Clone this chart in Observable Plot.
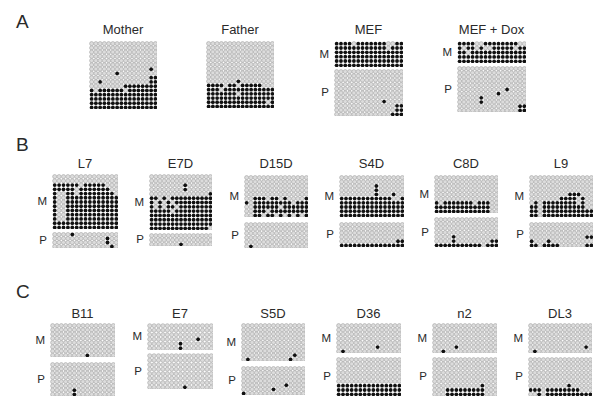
<!DOCTYPE html>
<html><head><meta charset="utf-8">
<script src="https://cdn.jsdelivr.net/npm/d3@7"></script>
<script src="https://cdn.jsdelivr.net/npm/@observablehq/plot@0.6"></script>
<style>
body{margin:0;background:#fff;}
#fig{position:relative;width:600px;height:405px;font-family:"Liberation Sans",Arial,Helvetica,sans-serif;color:#2a2a2a;overflow:hidden}
.t{position:absolute;white-space:nowrap;line-height:1}
.blk{position:absolute}
.blk svg{display:block}
</style></head><body><div id="fig"></div>
<script>
// Section letters and sample titles
const sections = ["A", "B", "C"];
const titles = ["Mother","Father","MEF","MEF + Dox","L7","E7D","D15D","S4D","C8D","L9","B11","E7","S5D","D36","n2","DL3"];
const alleleLabels = ["M","P"];

// Methylation grids: one string per clone (row), '#' = methylated CpG, '.' = unmethylated
const mother = [
"................","................","................","................",
"................","................","..............#.","......#.........",
"..............##","..#...........##","........########","#.######.#######",
"################","################","################","################"];
const father = [
"................","................","................","................",
"................","................","................","................",
"................",".......#........","####.##.#####...","###.############",
"#######.########","################","##############.#","################"];
const mefM = [
"####.#######..##","############.###","################","################",
"################","################"];
const mefP = [
"................","................","................","................",
"................","................","................","...........#....",
"..............##","..............##",".............###"];
const doxM = [
"####..########..","#.##.#..#####.##","##.#############","################",
"################"];
const doxP = [
"................","................","................","................",
"................","...........#....",".........#......",".....#..........",
".....#..........","..............##","..............##"];
const l7M = [
"...............","...............","######.#####...","#####.#######..",
"#..##.########.","#..############","#..############","#..############",
"#..############","#..############","#..############","###############",
"###############"];
const l7P = ["....#..........","............#..","............#..",".............#."];
const e7dM = [
"...............","...............","........#......","........#......",
"..............#","##.#.##########","#.#.#.#########","#.#.##.########",
"#####.#########","###############","###############","###############",
"##############."];
const e7dP = ["...............","...............",".......#......."];
const d15dM = [
"...............","...............","...............","...............",
"...............","..###.##.#....#","#.#########.###","..######.######",
"..###.#########","..##.##.#.#.#.#"];
const d15dP = ["...............","...............","...............","...............","...............",".#............."];
const s4dM = [
"...............","...............","........#......","........#......",
"........#...#..","############..#","###############","###############",
"###############","###############"];
const s4dP = ["...............","...............","...............","...............",".............##","###############"];
const c8dM = [
"...............","...............","...............","...............",
"...............","...............","#.#######.###..","#############..",
"#############.."];
const c8dP = ["...............","...............","...............","...............","....#..........","....#........##","###########.###"];
const l9M = [
"...............","...............","...............","...............",
".........###...",".......####.#..",".#.########.#..","##.##########..",
"##.############","##.############"];
const l9P = ["...............","...............","...............",".............##","#...#..........","##.####......##"];
const b11M = ["...............","...............","...............","...............","...............","...............","...............","........#......"];
const b11P = ["...............","...............","...............","...............","...............","...............",".....#.........",".....#........."];
const e7M = ["...............","...............","...............","...........#...",".......#.......",".......#......."];
const e7P = ["...............","...............","...............","...............","...............","...............","...............","........#......"];
const s5dM = ["...............","...............","...............","...............","...............","...............","...............","............#..",".#.........#..."];
const s5dP = ["...............","...............","...............","...............","..........#....",".......#.......","#.............."];
const d36M = ["...............","...............","...............","...............","...............",".........#.....",".#............."];
const d36P = ["...............","...............","...............","...............","...............","...............","###############","###############","###############"];
const n2M = ["...............","...............","...............","...............","...............",".....#.........","..#............"];
const n2P = ["...............","...............","...............","...............","...............","...............","...........#...","...#########...","...#########..."];
const dl3M = ["...............","...............","...............","...............","...............",".............#.",".#............."];
const dl3P = ["...............","...............","...............","...............","...............","...............",".........#.....","###.########...","..#.###########"];

// Layout (page geometry only)
const sectionPos = [{x:16,b:28},{x:16,b:151},{x:16,b:298}];
const panels = [
 {x:89, w:68, tb:34, blocks:[{g:mother,y:41,h:68}]},
 {x:206,w:68, tb:34, blocks:[{g:father,y:41,h:67}]},
 {x:334,w:69, tb:34, blocks:[{g:mefM,y:41,h:26,l:0},{g:mefP,y:69,h:47,l:1}]},
 {x:457,w:69, tb:34, blocks:[{g:doxM,y:41,h:22,l:0},{g:doxP,y:66,h:46,l:1}]},
 {x:52, w:66, tb:168, blocks:[{g:l7M,y:174,h:55,l:0},{g:l7P,y:232,h:16,l:1}]},
 {x:149,w:63, tb:168, blocks:[{g:e7dM,y:174,h:56,l:0},{g:e7dP,y:233,h:13,l:1}]},
 {x:244,w:64, tb:168, blocks:[{g:d15dM,y:175,h:42,l:0},{g:d15dP,y:222,h:26,l:1}]},
 {x:339,w:65, tb:168, blocks:[{g:s4dM,y:175,h:42,l:0},{g:s4dP,y:222,h:25,l:1}]},
 {x:434,w:64, tb:168, blocks:[{g:c8dM,y:175,h:38,l:0},{g:c8dP,y:217,h:30,l:1}]},
 {x:529,w:64, tb:168, blocks:[{g:l9M,y:175,h:42,l:0},{g:l9P,y:222,h:25,l:1}]},
 {x:50, w:65, tb:318, blocks:[{g:b11M,y:323,h:34,l:0},{g:b11P,y:362,h:34,l:1}]},
 {x:147,w:66, tb:318, blocks:[{g:e7M,y:323,h:27,l:0},{g:e7P,y:353,h:36,l:1}]},
 {x:241,w:64, tb:318, blocks:[{g:s5dM,y:323,h:38,l:0},{g:s5dP,y:366,h:29,l:1}]},
 {x:336,w:65, tb:318, blocks:[{g:d36M,y:323,h:30,l:0},{g:d36P,y:357,h:39,l:1}]},
 {x:432,w:65, tb:318, blocks:[{g:n2M,y:323,h:30,l:0},{g:n2P,y:357,h:39,l:1}]},
 {x:528,w:64, tb:318, blocks:[{g:dl3M,y:323,h:30,l:0},{g:dl3P,y:357,h:39,l:1}]}
];

const fig = document.getElementById("fig");
function addText(txt, size, left, baseline, align, width) {
  const d = document.createElement("div");
  d.className = "t";
  d.textContent = txt;
  d.style.fontSize = size + "px";
  d.style.top = (baseline - 0.847 * size) + "px";
  if (align === "center") { d.style.left = (left - width/2) + "px"; d.style.width = width + "px"; d.style.textAlign = "center"; }
  else if (align === "right") { d.style.left = (left - width) + "px"; d.style.width = width + "px"; d.style.textAlign = "right"; }
  else d.style.left = left + "px";
  fig.appendChild(d);
}
function block(grid, w, h) {
  const rows = grid.length, cols = grid[0].length;
  const cells = [];
  grid.forEach((s, r) => [...s].forEach((c, k) => cells.push({col: k, row: r, m: c === "#"})));
  return Plot.plot({
    width: w, height: h, margin: 0,
    style: {background: "transparent"},
    x: {domain: [-0.5, cols - 0.5], axis: null},
    y: {domain: [-0.5, rows - 0.5], axis: null, reverse: true},
    marks: [
      Plot.dot(cells.filter(d => !d.m), {x: "col", y: "row", r: 2.05, fill: "#dcdcdc", stroke: "#a4a4a4", strokeWidth: 0.6}),
      Plot.dot(cells.filter(d => d.m), {x: "col", y: "row", r: 1.9, fill: "#111", stroke: "none"})
    ]
  });
}

sections.forEach((s, i) => addText(s, 19, sectionPos[i].x, sectionPos[i].b));
panels.forEach((p, i) => {
  addText(titles[i], 13, p.x + p.w/2, p.tb, "center", 120);
  p.blocks.forEach(b => {
    const div = document.createElement("div");
    div.className = "blk";
    div.style.left = p.x + "px";
    div.style.top = b.y + "px";
    div.appendChild(block(b.g, p.w, b.h));
    fig.appendChild(div);
    if (b.l !== undefined) addText(alleleLabels[b.l], 11.5, p.x - 5, b.y + b.h/2 + 4.5, "right", 20);
  });
});
</script></body></html>
